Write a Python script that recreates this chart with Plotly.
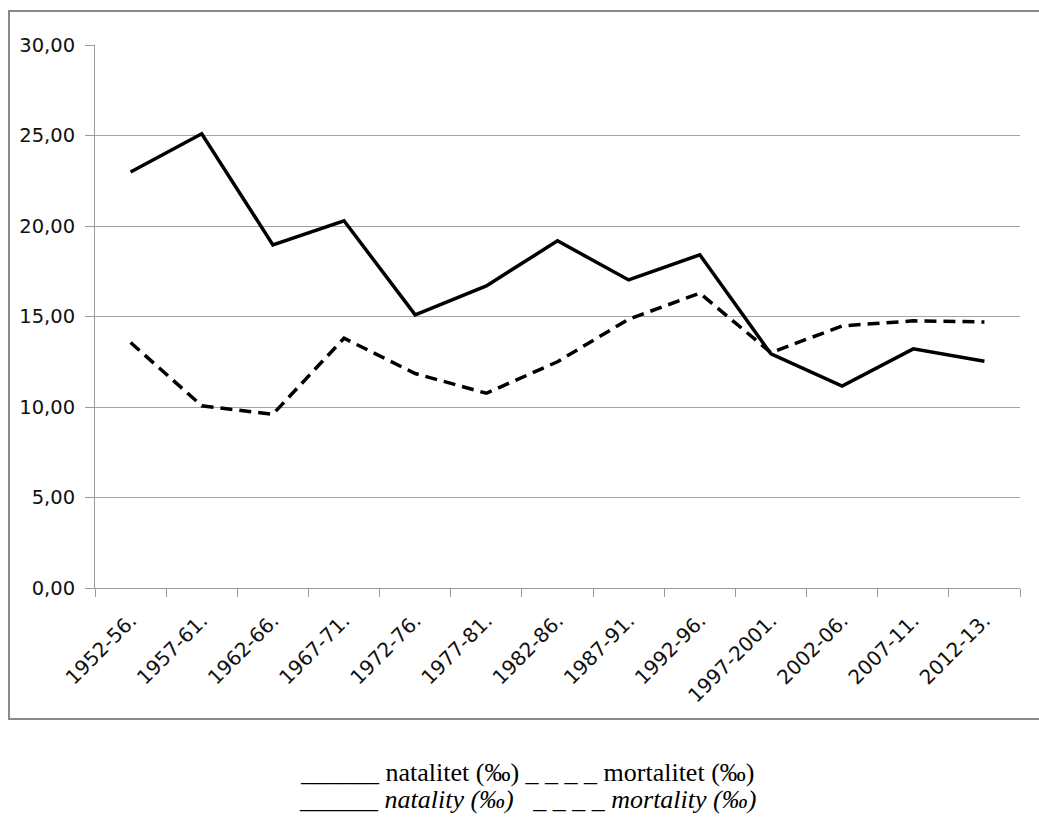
import plotly.graph_objects as go

# Five-year periods and crude rates per thousand
periods = ["1952-56.", "1957-61.", "1962-66.", "1967-71.", "1972-76.", "1977-81.",
           "1982-86.", "1987-91.", "1992-96.", "1997-2001.", "2002-06.", "2007-11.",
           "2012-13."]
natality = [22.98, 25.10, 18.96, 20.29, 15.09, 16.69, 19.18, 17.02, 18.41,
            12.93, 11.16, 13.21, 12.53]
mortality = [13.56, 10.07, 9.60, 13.80, 11.85, 10.76, 12.50, 14.85, 16.29,
             13.00, 14.48, 14.76, 14.70]
y_ticks = [0, 5, 10, 15, 20, 25, 30]
y_tick_text = ["0,00", "5,00", "10,00", "15,00", "20,00", "25,00", "30,00"]

W, H = 1039, 818
L, R, T, B = 95, 19, 45, 230
pw, ph = W - L - R, H - T - B


def px_x(x):
    return (x - L) / pw


def px_y(y):
    return (H - B - y) / ph


fig = go.Figure()
fig.add_trace(go.Scatter(x=periods, y=natality, mode="lines",
                         line=dict(color="black", width=3.5), name="natalitet"))
fig.add_trace(go.Scatter(x=periods, y=mortality, mode="lines",
                         line=dict(color="black", width=3.5, dash="12px,7px"),
                         name="mortalitet"))

grey = "#9a9a9a"
fig.update_layout(
    width=W, height=H,
    margin=dict(l=L, r=R, t=T, b=B),
    paper_bgcolor="white", plot_bgcolor="white",
    showlegend=False,
    xaxis=dict(type="category", showgrid=False, showline=True, linecolor=grey,
               linewidth=1, ticks="outside", tickson="boundaries", ticklen=8,
               tickcolor=grey, tickangle=-45, ticklabelstandoff=12,
               tickfont=dict(family="DejaVu Sans", size=20, color="#111"),
               range=[-0.5, len(periods) - 0.5]),
    yaxis=dict(range=[0, 30], tickvals=y_ticks, ticktext=y_tick_text,
               showgrid=True, gridcolor="#a4a4a4", gridwidth=1,
               showline=True, linecolor=grey, linewidth=1,
               ticks="outside", ticklen=9, tickcolor=grey,
               ticklabelstandoff=6, zeroline=False,
               tickfont=dict(family="DejaVu Sans", size=19.5, color="#111")),
)

# Chart frame
fig.add_shape(type="rect", xref="paper", yref="paper",
              x0=px_x(9), x1=px_x(1060), y0=px_y(719), y1=px_y(11),
              line=dict(color="#8a8a8a", width=2), layer="below")

nb = "\u00a0"
line1 = "______ natalitet (‰) _ _ _ _ mortalitet (‰)"
line2 = "<i>______ natality (‰)" + nb * 3 + "_ _ _ _ mortality (‰)</i>"
for txt, yy in [(line1, 772), (line2, 800)]:
    fig.add_annotation(text=txt, xref="paper", yref="paper",
                       x=px_x(527), y=px_y(yy), xanchor="center", yanchor="middle",
                       showarrow=False,
                       font=dict(family="Liberation Serif, Times New Roman, serif",
                                 size=26, color="black"))

fig.write_html("out.html")
